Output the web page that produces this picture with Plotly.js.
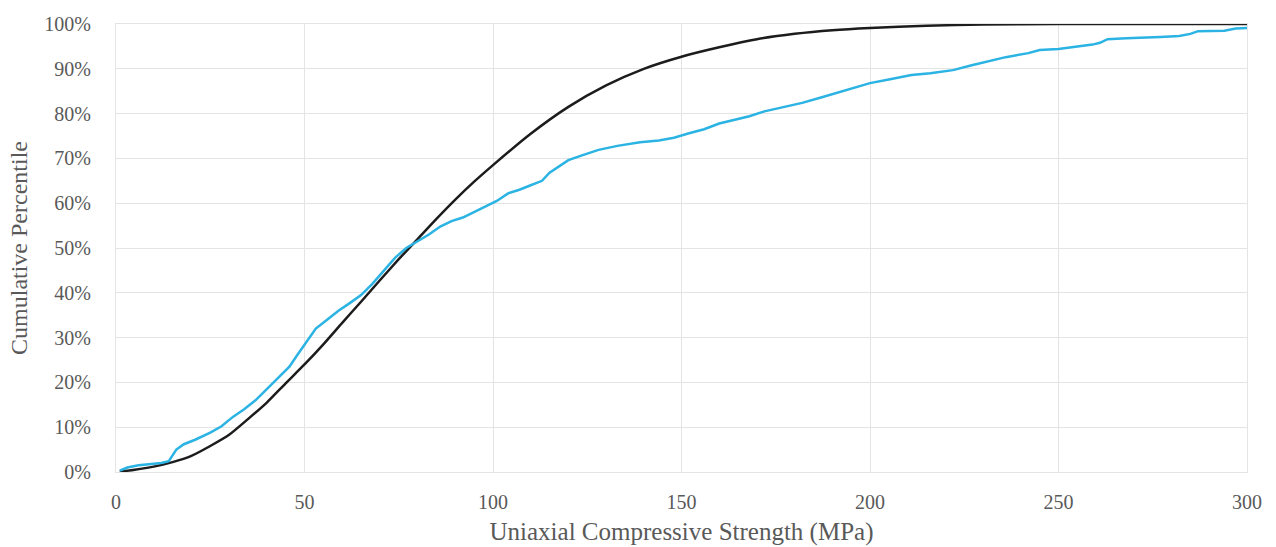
<!DOCTYPE html>
<html>
<head>
<meta charset="utf-8">
<script src="https://cdn.plot.ly/plotly-3.0.1.min.js"></script>
<style>html,body{margin:0;padding:0;background:#fff;}#chart{width:1276px;height:547px;}</style>
</head>
<body>
<div id="chart"></div>
<script>
// Fitted distribution (black curve)
const fitX = [1,5,10,15,20,25,30,35,40,45,50,55,60,65,70,75,80,85,90,95,100,110,120,130,140,150,160,170,180,190,200,215,230,250,275,300];
const fitY = [0.1,0.5,1.2,2.2,3.6,5.8,8.3,11.8,15.5,19.8,24.0,28.5,33.3,38.0,42.8,47.5,52.0,56.5,60.8,64.8,68.5,75.5,81.5,86.3,90.0,92.7,94.8,96.6,97.8,98.6,99.1,99.6,99.9,100,100,100];

// Empirical data (cyan curve)
const dataX = [1,3,6,9,12,14,16,18,21,25,28,31,34,37,40,43,46,48,51,53,56,59,62,65,68,71,74,77,80,83,86,89,92,95,98,101,104,107,110,113,115,117,120,124,128,133,139,144,148,152,156,160,164,168,172,177,182,187,192,196,200,205,211,216,222,227,232,236,242,245,250,255,259,261,263,268,274,277,282,285,287,294,297,300];
const dataY = [0.3,1.0,1.5,1.8,2.0,2.4,5.0,6.2,7.2,8.8,10.2,12.3,14.0,16.0,18.5,21.0,23.5,26.0,29.5,32.0,34.0,36.0,37.7,39.5,42.0,45.0,47.8,50.0,51.5,53.0,54.8,56.0,56.8,58.0,59.2,60.5,62.2,63.0,64.0,65.0,66.8,68.0,69.6,70.8,71.9,72.8,73.6,74.0,74.6,75.6,76.5,77.8,78.6,79.4,80.5,81.5,82.4,83.6,84.8,85.8,86.8,87.6,88.6,89.0,89.7,90.8,91.8,92.6,93.5,94.2,94.4,94.9,95.4,95.8,96.6,96.8,96.9,97.1,97.3,97.8,98.4,98.5,99.0,99.1];

const xTitle = "Uniaxial Compressive Strength (MPa)";
const yTitle = "Cumulative Percentile";

const fontFam = "Liberation Serif";

const traces = [
  {x: fitX, y: fitY, type: "scatter", mode: "lines", line: {color: "#1c1c1c", width: 2.5, shape: "spline", smoothing: 0.6}, hoverinfo: "skip"},
  {x: dataX, y: dataY, type: "scatter", mode: "lines", line: {color: "#2bb3e3", width: 2.5}, hoverinfo: "skip"}
];

const layout = {
  width: 1276, height: 547,
  margin: {l: 116, r: 29, t: 24, b: 75},
  paper_bgcolor: "#fff", plot_bgcolor: "#fff",
  showlegend: false,
  font: {family: fontFam, color: "#595959", size: 20},
  xaxis: {
    range: [0, 300], dtick: 50, tick0: 0,
    showgrid: true, gridcolor: "#e4e4e4", gridwidth: 1,
    zeroline: false, showline: true, mirror: true, linecolor: "#e4e4e4", linewidth: 1,
    ticks: "", ticklabelstandoff: 12,
    tickfont: {family: fontFam, size: 20, color: "#595959"},
    title: {text: xTitle, font: {family: fontFam, size: 25, color: "#595959"}, standoff: 10},
    automargin: false, fixedrange: true
  },
  yaxis: {
    range: [0, 100], dtick: 10, tick0: 0, ticksuffix: "%",
    showgrid: true, gridcolor: "#e4e4e4", gridwidth: 1,
    zeroline: false, showline: true, mirror: true, linecolor: "#e4e4e4", linewidth: 1,
    ticks: "", ticklabelstandoff: 20,
    tickfont: {family: fontFam, size: 20, color: "#595959"},
    title: {text: yTitle, font: {family: fontFam, size: 24, color: "#595959"}, standoff: 9},
    automargin: false, fixedrange: true
  }
};

Plotly.newPlot("chart", traces, layout, {staticPlot: true, displayModeBar: false});
</script>
</body>
</html>
